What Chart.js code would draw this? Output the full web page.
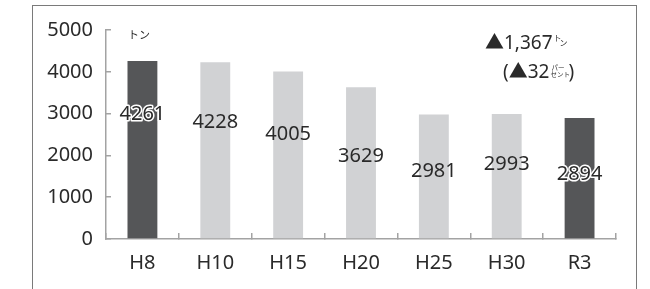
<!DOCTYPE html>
<html><head><meta charset="utf-8">
<script src="https://cdn.jsdelivr.net/npm/chart.js@4"></script>
<style>
html,body{margin:0;padding:0;background:#fff;}
#wrap{position:relative;width:650px;height:289px;overflow:hidden;}
#frame{position:absolute;left:32px;top:5px;width:605px;height:300px;border:1.5px solid #7a7a7a;border-bottom:none;box-sizing:border-box;}
canvas{position:absolute;left:0;top:0;}
</style></head>
<body>
<div id="wrap"><div id="frame"></div><canvas id="c" width="650" height="289"></canvas></div>
<script>
const categories = ['H8','H10','H15','H20','H25','H30','R3'];
const values = [4261,4228,4005,3629,2981,2993,2894];
const highlight = [true,false,false,false,false,false,true];
const yTicks = [0,1000,2000,3000,4000,5000];
const unitLabel = 'トン';
const diffText = '▲1,367';
const pctText = '(▲32';

const FONT = '"Noto Sans","Noto Sans CJK JP",sans-serif';
const JFONT = '"Noto Sans CJK JP",sans-serif';
const DARK = '#555658', LIGHT = '#d1d2d4', AXIS = '#a3a3a3', TEXT = '#2a2a2a';
const labelDy = [53,60,63,69,57,50,56];

const labelPlugin = {
  id: 'labels',
  afterDatasetsDraw(chart) {
    const ctx = chart.ctx;
    const meta = chart.getDatasetMeta(0);
    const y = chart.scales.y;
    ctx.save();
    ctx.font = '20px ' + FONT;
    ctx.textAlign = 'center';
    ctx.textBaseline = 'middle';
    meta.data.forEach((bar, i) => {
      const py = y.getPixelForValue(values[i]) + labelDy[i];
      ctx.lineJoin = 'round';
      if (highlight[i]) {
        ctx.strokeStyle = '#fff';
        ctx.lineWidth = 3;
        ctx.strokeText(String(values[i]), bar.x, py);
      }
      ctx.fillStyle = TEXT;
      ctx.fillText(String(values[i]), bar.x, py);
    });
    const ca = chart.chartArea;
    ctx.textAlign = 'left';
    ctx.textBaseline = 'alphabetic';
    ctx.fillStyle = TEXT;
    ctx.font = '11px ' + JFONT;
    ctx.fillText(unitLabel, ca.left + 22, ca.top + 9);
    ctx.font = '19px ' + FONT;
    const ax = ca.right - 131;
    ctx.fillText(diffText, ax, ca.top + 19);
    let w = ctx.measureText(diffText).width;
    ctx.font = '8px ' + JFONT;
    ctx.fillText('ト', ax + w + 1, ca.top + 11);
    ctx.fillText('ン', ax + w + 7, ca.top + 16);
    ctx.font = '19px ' + FONT;
    const bx = ca.right - 113;
    ctx.fillText(pctText, bx, ca.top + 48);
    w = ctx.measureText(pctText).width;
    ctx.font = '6.5px ' + JFONT;
    ctx.fillText('パー', bx + w + 2, ca.top + 40);
    ctx.fillText('セント', bx + w + 1, ca.top + 47);
    ctx.font = '19px ' + FONT;
    ctx.fillText(')', bx + w + 19, ca.top + 48);
    ctx.restore();
  }
};

new Chart(document.getElementById('c'), {
  type: 'bar',
  data: {
    labels: categories,
    datasets: [{
      data: values,
      backgroundColor: highlight.map(h => h ? DARK : LIGHT),
      borderWidth: 0,
      categoryPercentage: 1,
      barPercentage: 0.41
    }]
  },
  options: {
    responsive: false,
    animation: false,
    devicePixelRatio: 1,
    layout: { padding: { left: 0, right: 34, top: 28, bottom: 0 } },
    plugins: { legend: { display: false }, tooltip: { enabled: false } },
    scales: {
      x: {
        grid: { drawOnChartArea: false, color: AXIS, lineWidth: 1.5, tickLength: -6, offset: true },
        border: { color: AXIS, width: 1.5 },
        ticks: { color: TEXT, font: { size: 20, family: FONT }, padding: 18 },
        afterFit(s) { s.height = 50; }
      },
      y: {
        min: 0, max: 5000,
        afterBuildTicks(s) { s.ticks = yTicks.map(v => ({ value: v })); },
        grid: { drawOnChartArea: false, color: AXIS, lineWidth: 1.5, tickLength: -5 },
        border: { color: AXIS, width: 1.5 },
        ticks: { color: TEXT, font: { size: 20, family: FONT }, padding: 18, callback: v => String(v) },
        afterFit(s) { s.width = 106; }
      }
    }
  },
  plugins: [labelPlugin]
});
</script>
</body></html>
